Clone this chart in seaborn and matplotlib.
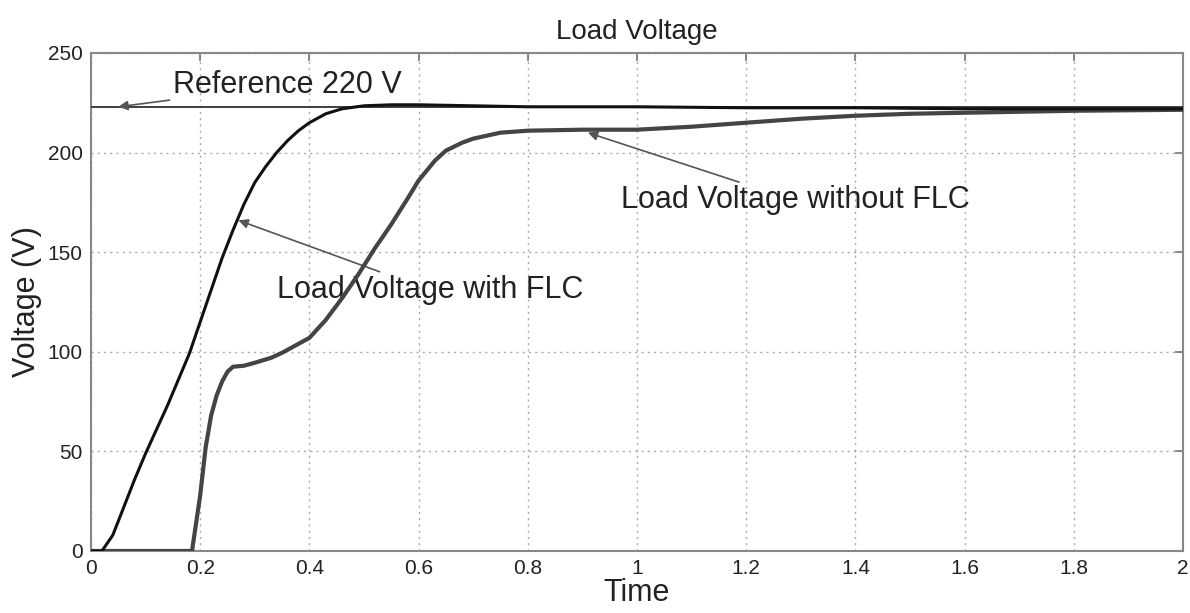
import matplotlib
matplotlib.use("Agg")
import matplotlib.pyplot as plt
import seaborn as sns
import pandas as pd

# ---------------- data ----------------
t_flc = [0.0, 0.02, 0.04, 0.06, 0.08, 0.10, 0.12, 0.14, 0.16, 0.18, 0.20, 0.22, 0.24,
         0.26, 0.28, 0.30, 0.32, 0.34, 0.36, 0.38, 0.40, 0.43, 0.46, 0.50, 0.55, 0.60,
         0.70, 0.80, 1.00, 1.20, 1.40, 1.60, 1.80, 2.00]
v_flc = [0, 0, 8, 22, 36, 49, 61, 73, 86, 99, 115, 131, 147,
         161, 174, 185, 193, 200, 206, 211, 215, 219.5, 222, 223.5, 224, 224,
         223.5, 223, 223, 222.5, 222.5, 222, 222, 222]

t_noflc = [0.0, 0.185, 0.20, 0.21, 0.22, 0.23, 0.24, 0.25, 0.26, 0.28, 0.30, 0.33, 0.35,
           0.38, 0.40, 0.43, 0.46, 0.49, 0.52, 0.55, 0.58, 0.60, 0.63, 0.65, 0.68, 0.70,
           0.75, 0.80, 0.90, 1.00, 1.10, 1.20, 1.30, 1.40, 1.50, 1.60, 1.80, 2.00]
v_noflc = [0, 0, 28, 52, 68, 78, 85, 90, 92.5, 93, 94.5, 97, 99.5,
           104, 107, 116, 127, 139, 152, 164, 177, 186, 196, 201, 205, 207,
           210, 211, 211.5, 211.5, 213, 215, 217, 218.5, 219.5, 220, 221, 221.5]

t_ref = [0.0, 2.0]
v_ref = [223, 223]

x_ticks = [0, 0.2, 0.4, 0.6, 0.8, 1, 1.2, 1.4, 1.6, 1.8, 2]
x_ticklabels = ["0", "0.2", "0.4", "0.6", "0.8", "1", "1.2", "1.4", "1.6", "1.8", "2"]
y_ticks = [0, 50, 100, 150, 200, 250]

title = "Load Voltage"
xlabel = "Time"
ylabel = "Voltage (V)"

# ---------------- plot ----------------
sns.set_style("white")
plt.rcParams["font.family"] = ["Liberation Sans", "DejaVu Sans"]

fig = plt.figure(figsize=(11.9, 6.13), dpi=100)
ax = fig.add_axes([91 / 1190, 1 - 551 / 613, (1183 - 91) / 1190, (551 - 53) / 613])

df_ref = pd.DataFrame({"t": t_ref, "v": v_ref})
df_flc = pd.DataFrame({"t": t_flc, "v": v_flc})
df_no = pd.DataFrame({"t": t_noflc, "v": v_noflc})

sns.lineplot(data=df_ref, x="t", y="v", ax=ax, color="#303030", linewidth=1.3, zorder=3)
sns.lineplot(data=df_no, x="t", y="v", ax=ax, color="#444444", linewidth=3.0, zorder=4)
sns.lineplot(data=df_flc, x="t", y="v", ax=ax, color="#111111", linewidth=2.2, zorder=5)

ax.set_xlim(0, 2)
ax.set_ylim(0, 250)
ax.set_xticks(x_ticks)
ax.set_xticklabels(x_ticklabels)
ax.set_yticks(y_ticks)
ax.tick_params(axis="both", direction="in", length=6, width=1.2, color="#777777",
               labelsize=15, labelcolor="#222222", top=True, right=True, pad=6)
ax.grid(True, linestyle=(0, (1.5, 3)), color="#aaaaaa", linewidth=1.0)
for s in ax.spines.values():
    s.set_color("#888888")
    s.set_linewidth(1.5)

ax.set_title(title, fontsize=20, color="#222222", pad=10)
ax.set_xlabel(xlabel, fontsize=22, color="#222222", labelpad=0)
ax.set_ylabel(ylabel, fontsize=22, color="#222222", labelpad=4)

arrow = dict(arrowstyle="-|>", color="#555555", lw=1.2, mutation_scale=14, shrinkA=0, shrinkB=0)
ax.annotate("Reference 220 V", xy=(0.05, 223), xytext=(0.15, 234),
            fontsize=22, color="#222222", va="center", ha="left", arrowprops=arrow)
ax.annotate("Load Voltage with FLC", xy=(0.27, 166), xytext=(0.34, 131),
            fontsize=22, color="#222222", va="center", ha="left", arrowprops=arrow)
ax.annotate("Load Voltage without FLC", xy=(0.91, 210), xytext=(0.97, 176),
            fontsize=22, color="#222222", va="center", ha="left", arrowprops=arrow)

fig.savefig("out.png", dpi=100)
